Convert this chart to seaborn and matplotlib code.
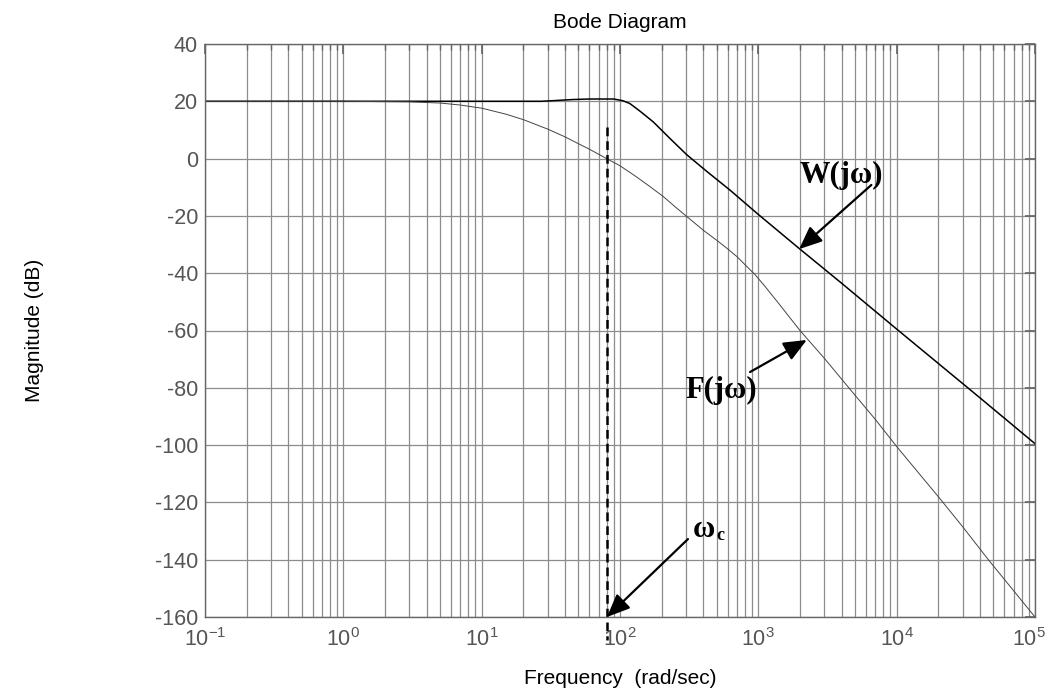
import numpy as np
import pandas as pd
import seaborn as sns
import matplotlib.pyplot as plt
from matplotlib.ticker import LogLocator, FixedLocator, NullFormatter
from matplotlib.transforms import ScaledTranslation

# values
w_freq = [0.1, 1, 10, 27, 35, 45, 60, 90, 105, 118, 140, 174, 230, 303, 420,
          624, 1000, 2000, 4000, 10000, 20000, 40000, 100000]
w_mag = [20, 20, 20, 20, 20.3, 20.6, 20.8, 20.8, 20.2, 19.2, 16.5, 12.8, 7.0,
         1.4, -4.3, -11, -19.5, -31.6, -43.5, -59.5, -71.5, -83.5, -99.5]

f_freq = [0.1, 1, 3, 5, 7, 10, 15, 20, 30, 40, 50, 60, 80, 100, 130, 165, 205,
          250, 295, 400, 500, 600, 700, 800, 946, 1100, 1400, 2000, 3000, 4600,
          7000, 10000, 20000, 30000, 46000, 100000]
f_mag = [20, 20, 19.8, 19.4, 18.7, 17.6, 15.5, 13.6, 10.3, 7.6, 5.2, 3.3, 0.0,
         -2.5, -6.2, -9.8, -13.2, -16.8, -19.7, -25, -28.5, -31.5, -34.2, -37.0,
         -40.5, -44.2, -50.5, -60, -69.7, -80.5, -91, -100.5, -118, -128.5,
         -140, -160]

wc = 80.5          # crossover frequency marked by the dashed line
wc_top = 11        # top of the dashed marker (dB)
x_ticks = [0.1, 1, 10, 100, 1000, 10000, 100000]
y_ticks = [-160, -140, -120, -100, -80, -60, -40, -20, 0, 20, 40]

w_df = pd.DataFrame({"freq": w_freq, "mag": w_mag})
f_df = pd.DataFrame({"freq": f_freq, "mag": f_mag})

sns.set_theme(style="white")
plt.rcParams["font.family"] = ["Liberation Sans", "DejaVu Sans"]
plt.rcParams["mathtext.fontset"] = "custom"
plt.rcParams["mathtext.rm"] = "Liberation Sans"
plt.rcParams["mathtext.it"] = "Liberation Sans:italic"
plt.rcParams["mathtext.bf"] = "Liberation Sans:bold"
plt.rcParams["axes.unicode_minus"] = False

fig = plt.figure(figsize=(10.49, 6.89), dpi=100)
ax = fig.add_axes([205 / 1049, 1 - 617 / 689, 830 / 1049, 573 / 689])

sns.lineplot(data=w_df, x="freq", y="mag", ax=ax, color="black", lw=1.1)
sns.lineplot(data=f_df, x="freq", y="mag", ax=ax, color="#444444", lw=0.7)

ax.plot([wc, wc], [wc_top, -168], color="black", lw=1.8, dashes=(3.5, 2),
        clip_on=False)

ax.set_xscale("log")
ax.set_xlim(0.1, 1e5)
ax.set_ylim(-160, 40)
ax.yaxis.set_major_locator(FixedLocator(y_ticks))
ax.xaxis.set_major_locator(FixedLocator(x_ticks))
ax.xaxis.set_minor_locator(LogLocator(base=10, subs=np.arange(2, 10), numticks=100))
ax.xaxis.set_minor_formatter(NullFormatter())

grid_c = "#8c8c8c"
ax.grid(True, which="major", axis="both", color=grid_c, lw=0.9)
ax.grid(True, which="minor", axis="x", color=grid_c, lw=0.9)
ax.set_axisbelow(True)

for s in ax.spines.values():
    s.set_color("#666666")
    s.set_linewidth(1.0)

ax.tick_params(which="both", direction="in", top=True, right=True,
               colors="#666666", labelcolor="#555555", labelsize=15.5)
ax.tick_params(which="major", length=7)
ax.tick_params(which="minor", length=4)
ax.tick_params(axis="y", pad=5)
ax.tick_params(axis="x", pad=8)
ax.set_xlabel("")
ax.set_ylabel("")

# keep the last decade label inside the canvas
fig.canvas.draw()
last = ax.xaxis.get_major_ticks()[-1].label1
last.set_transform(last.get_transform()
                   + ScaledTranslation(-6 / 100, 0, fig.dpi_scale_trans))

fig.text(620 / 1049, 1 - 22 / 689, "Bode Diagram", ha="center", va="center",
         fontsize=15, color="black")
fig.text(620 / 1049, 1 - 678 / 689, "Frequency  (rad/sec)", ha="center",
         va="center", fontsize=15, color="black")
fig.text(35 / 1049, 1 - 330 / 689, "Magnitude (dB)", ha="center", va="center",
         rotation=90, fontsize=15, color="black")

arrow = dict(arrowstyle="-|>,head_length=0.7,head_width=0.3", lw=1.6,
             color="black", shrinkA=0, shrinkB=0, mutation_scale=20)
ax.annotate("", xy=(1972, -31.6), xytext=(6560, -9.2), arrowprops=arrow)
ax.annotate("", xy=(2240, -63.3), xytext=(871, -74.5), arrowprops=arrow)
ax.annotate("", xy=(wc, -160), xytext=(310, -132.8), arrowprops=arrow,
            annotation_clip=False)

lab = dict(family=["Liberation Serif", "DejaVu Serif"], weight="bold",
           color="black", ha="left", va="baseline")
ax.text(1990, -8.4, "W(jω)", fontsize=22, **lab)
ax.text(295, -83.4, "F(jω)", fontsize=22, **lab)
ax.text(337, -132.1, "ω", fontsize=22, **lab)
ax.text(494, -133.1, "c", fontsize=13, **lab)

fig.savefig("out.png", dpi=100)
